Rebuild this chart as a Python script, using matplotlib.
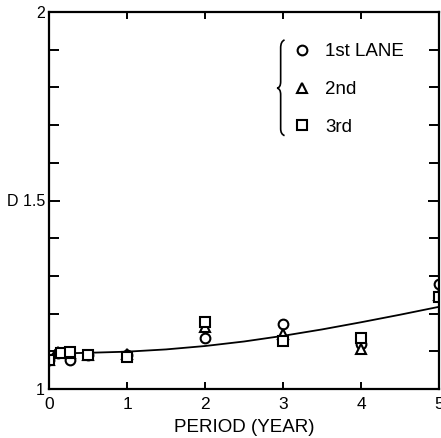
import numpy as np
import matplotlib
matplotlib.use("Agg")
import matplotlib.pyplot as plt
from matplotlib.path import Path
from matplotlib.patches import PathPatch
from matplotlib.ticker import MultipleLocator

plt.rcParams['font.family'] = ['Liberation Sans', 'DejaVu Sans']

lane1_x = [0, 0.12, 0.27, 0.5, 1, 2, 3, 4, 5]
lane1_y = [1.077, 1.096, 1.078, 1.090, 1.090, 1.136, 1.172, 1.119, 1.279]
lane2_x = [0, 0.12, 0.27, 0.5, 1, 2, 3, 4, 5]
lane2_y = [1.078, 1.097, 1.096, 1.091, 1.092, 1.165, 1.146, 1.105, 1.250]
lane3_x = [0, 0.15, 0.27, 0.5, 1, 2, 3, 4, 5]
lane3_y = [1.076, 1.096, 1.098, 1.090, 1.086, 1.179, 1.127, 1.134, 1.245]

# fitted curve
fit_x = [0, 0.05, 0.5, 1, 1.5, 2, 2.5, 3, 3.5, 4, 4.5, 5]
fit_y = [1.082, 1.094, 1.096, 1.099, 1.105, 1.114, 1.126, 1.141, 1.158, 1.177, 1.197, 1.218]

labels = ['1st LANE', '2nd', '3rd']
yticks = [1, 1.5, 2]
yticklabels = ['1', 'D 1.5', '2']

fig = plt.figure(figsize=(4.41, 4.38), dpi=100)
ax = fig.add_axes([49/441, 1 - 389/438, 390/441, 377/438])

ax.plot(fit_x, fit_y, color='black', lw=1.3)

mk = dict(ls='none', mfc='white', mec='black', mew=1.5, color='black')
h1, = ax.plot(lane1_x, lane1_y, marker='o', ms=7, **mk)
h2, = ax.plot(lane2_x, lane2_y, marker='^', ms=7, **mk)
h3, = ax.plot(lane3_x, lane3_y, marker='s', ms=6.5, **mk)

ax.set_xlim(0, 5)
ax.set_ylim(1, 2)
ax.set_xticks(range(6))
ax.set_yticks(yticks)
ax.set_yticklabels(yticklabels)
ax.yaxis.set_minor_locator(MultipleLocator(0.1))
ax.tick_params(which='both', direction='in', top=True, right=True,
               width=1.4, color='black')
ax.tick_params(axis='x', which='major', length=5, pad=6, labelsize=12.5)
ax.tick_params(axis='y', which='major', length=8, pad=3, labelsize=11.5)
ax.tick_params(axis='y', which='minor', length=7)
for s in ax.spines.values():
    s.set_linewidth(1.6)

ax.set_xlabel('PERIOD (YEAR)', fontsize=13.5, labelpad=5)

leg = ax.legend([h1, h2, h3], labels, loc='upper left',
                bbox_to_anchor=(0.625, 0.917), frameon=False, fontsize=13.5,
                handlelength=1.0, handletextpad=0.73, labelspacing=1.1,
                borderpad=0, borderaxespad=0)

# brace in front of the legend
verts = [(0.604, 0.926), (0.594, 0.922), (0.594, 0.905),
         (0.594, 0.815),
         (0.594, 0.800), (0.585, 0.798),
         (0.594, 0.796), (0.594, 0.781),
         (0.594, 0.690),
         (0.594, 0.676), (0.604, 0.672)]
codes = [Path.MOVETO, Path.CURVE3, Path.CURVE3,
         Path.LINETO,
         Path.CURVE3, Path.CURVE3,
         Path.CURVE3, Path.CURVE3,
         Path.LINETO,
         Path.CURVE3, Path.CURVE3]
ax.add_patch(PathPatch(Path(verts, codes), transform=ax.transAxes,
                       fill=False, lw=1.2, color='black'))

fig.savefig('out.png', dpi=100)
